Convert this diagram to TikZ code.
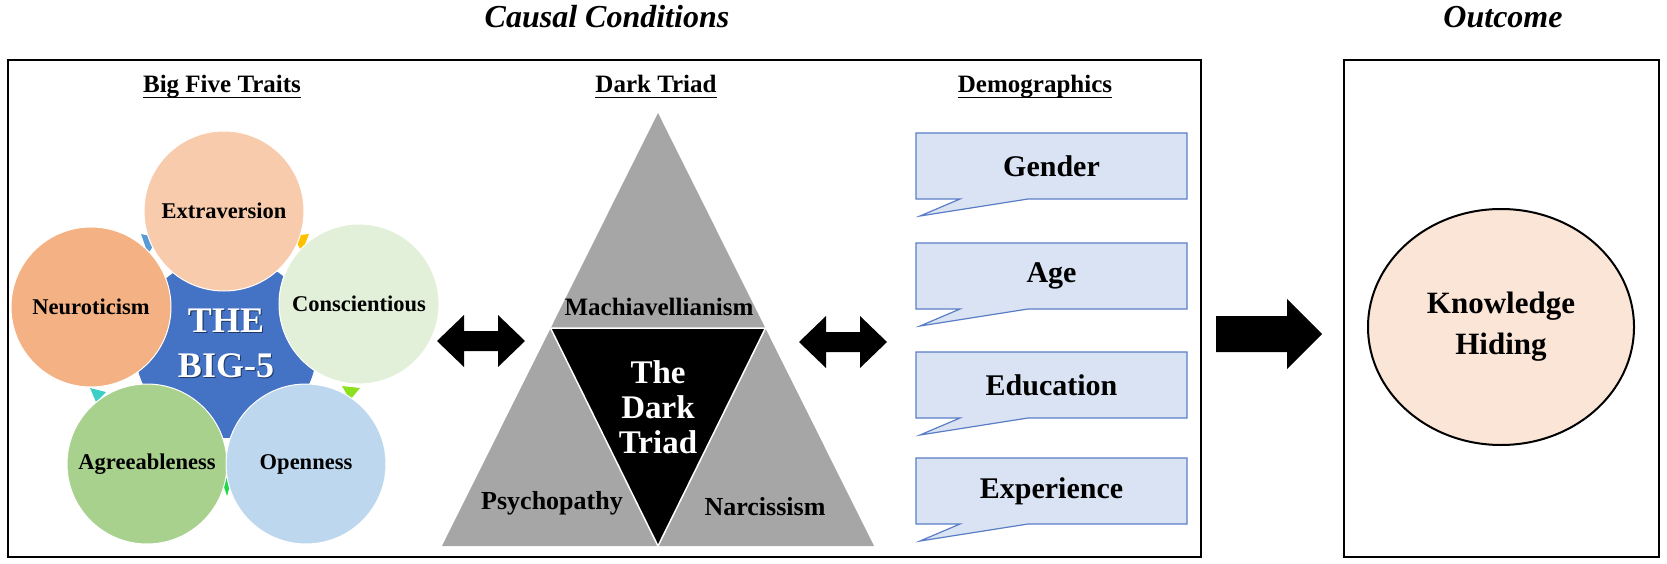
\documentclass[tikz,border=0pt]{standalone}
\usepackage{fontspec}
\setmainfont{Liberation Serif}
\usetikzlibrary{shapes.geometric}
\definecolor{cExt}{HTML}{F8CBAD}
\definecolor{cNeu}{HTML}{F4B183}
\definecolor{cCon}{HTML}{E2F0D9}
\definecolor{cAgr}{HTML}{A9D18E}
\definecolor{cOpe}{HTML}{BDD7EE}
\definecolor{cHub}{HTML}{4472C4}
\definecolor{cHubDark}{HTML}{1F3864}
\definecolor{cGray}{HTML}{A6A6A6}
\definecolor{cDemF}{HTML}{DAE3F3}
\definecolor{cDemD}{HTML}{5A7EC6}
\definecolor{cKH}{HTML}{FBE5D6}
\definecolor{cTipBlue}{HTML}{5B9BD5}
\definecolor{cTipOrange}{HTML}{FFC000}
\definecolor{cTipLime}{HTML}{8CE01E}
\definecolor{cTipGreen}{HTML}{22D64A}
\definecolor{cTipTeal}{HTML}{3CCFC8}
\newcommand\demob[3]{%
  \draw[dembox] (916,#2) -- (1187,#2) -- (1187,#2+66) -- (1028,#2+66) -- (920,#2+83) -- (960,#2+66) -- (916,#2+66) -- cycle;
  \node[demtext] (#1) at (1051.5,#2+33) {#3};}
\newcommand\dblarrow[1]{%
  \fill (#1) ++(-44,0) -- ++(27,-26) -- ++(0,16) -- ++(34,0) -- ++(0,-16) -- ++(27,26) -- ++(-27,26) -- ++(0,-16) -- ++(-34,0) -- ++(0,16) -- cycle;}
\begin{document}
\begin{tikzpicture}[x=1pt,y=-1pt,
  frame/.style={draw=black,line width=2.5pt},
  hdr/.style={font=\fontsize{32}{36}\selectfont\bfseries\itshape,inner sep=0pt,anchor=base},
  sub/.style={font=\fontsize{25}{30}\selectfont\bfseries,inner sep=0pt,anchor=base},
  ulline/.style={line width=1.6pt},
  trait/.style={circle,minimum size=160pt,inner sep=0pt,draw=white,line width=1pt,font=\fontsize{22.5}{26}\selectfont\bfseries},
  trilabel/.style={font=\fontsize{26}{30}\selectfont\bfseries,inner sep=0pt},
  dembox/.style={fill=cDemF,draw=cDemD,line width=1.2pt,line join=miter},
  demtext/.style={font=\fontsize{30}{34}\selectfont\bfseries,inner sep=0pt}]
\useasboundingbox (0,0) rectangle (1667,564);

% frames
\draw[frame] (8,60) rectangle (1201,557);
\draw[frame] (1344,60) rectangle (1659,557);

% headings
\node[hdr] (cc) at (607,28) {Causal Conditions};
\node[hdr] (oc) at (1503,28) {Outcome};

\node[sub] (bft) at (222,93) {Big Five Traits};
\node[sub] (dtt) at (656,93) {Dark Triad};
\node[sub] (dmt) at (1035,93) {Demographics};
\foreach \t in {bft,dtt,dmt}
  \draw[ulline] ([yshift=-4.5pt]\t.base west) -- ([yshift=-4.5pt]\t.base east);

% ---------- Big Five ----------
\fill[cHub] (226,347) circle (91);
\fill[cTipBlue] (141,234) -- (158,238) -- (148,254) -- cycle;
\fill[cTipOrange] (293,236) -- (309,234) -- (302,252) -- cycle;
\fill[cTipLime] (342,386) -- (360,388) -- (350,400) -- cycle;
\fill[cTipGreen] (221,478) -- (232,478) -- (227,496) -- cycle;
\fill[cTipTeal] (90,388) -- (106,392) -- (96,402) -- cycle;

\node[trait,fill=cExt] (ext) at (224,211) {Extraversion};
\node[trait,fill=cNeu] (neu) at (91,307) {Neuroticism};
\node[trait,fill=cCon] (con) at (359,304) {Conscientious};
\node[trait,fill=cAgr] (agr) at (147,464) {Agreeableness};
\node[trait,fill=cOpe] (ope) at (306,464) {Openness};

\node[font=\fontsize{36}{45}\selectfont\bfseries,text=cHubDark,align=center,inner sep=0pt] (big5s) at (227.2,344.2) {THE\\BIG-5};
\node[font=\fontsize{36}{45}\selectfont\bfseries,text=white,align=center,inner sep=0pt] (big5) at (226,343) {THE\\BIG-5};

% ---------- Dark Triad ----------
\coordinate (apex) at (658,113);
\coordinate (bl) at (442,546);
\coordinate (br) at (874,546);
\coordinate (ml) at (550.5,328);
\coordinate (mr) at (765.5,328);
\coordinate (mb) at (658,546);
\fill[cGray] (apex) -- (br) -- (bl) -- cycle;
\filldraw[fill=black,draw=white,line width=1.5pt,line join=miter] (ml) -- (mr) -- (mb) -- cycle;
\node[trilabel,font=\fontsize{25}{28}\selectfont\bfseries] (mach) at (659,307) {Machiavellianism};
\node[trilabel] (psy) at (552,503) {Psychopathy};
\node[trilabel] (nar) at (765,507) {Narcissism};
\node[font=\fontsize{33}{35}\selectfont\bfseries,text=white,align=center,inner sep=0pt] (tdt) at (658,407) {The\\Dark\\Triad};

% ---------- double arrows ----------
\coordinate (da1) at (481,341);
\coordinate (da2) at (843,342);
\dblarrow{da1}
\dblarrow{da2}

% ---------- Demographics ----------
\demob{gen}{133}{Gender}
\demob{age}{243}{Age}
\demob{edu}{352}{Education}
\demob{exp}{458}{Experience}

% ---------- big arrow ----------
\coordinate (bigA) at (1216,334);
\fill (bigA) ++(0,-18) -- ++(71,0) -- ++(0,-17) -- ++(35,35) -- ++(-35,35) -- ++(0,-17) -- ++(-71,0) -- cycle;

% ---------- Outcome ----------
\node[ellipse,minimum width=266pt,minimum height=236pt,fill=cKH,draw=black,line width=2pt,
      font=\fontsize{31}{41}\selectfont\bfseries,align=center] (kh) at (1501,327) {Knowledge\\Hiding};
\end{tikzpicture}
\end{document}
